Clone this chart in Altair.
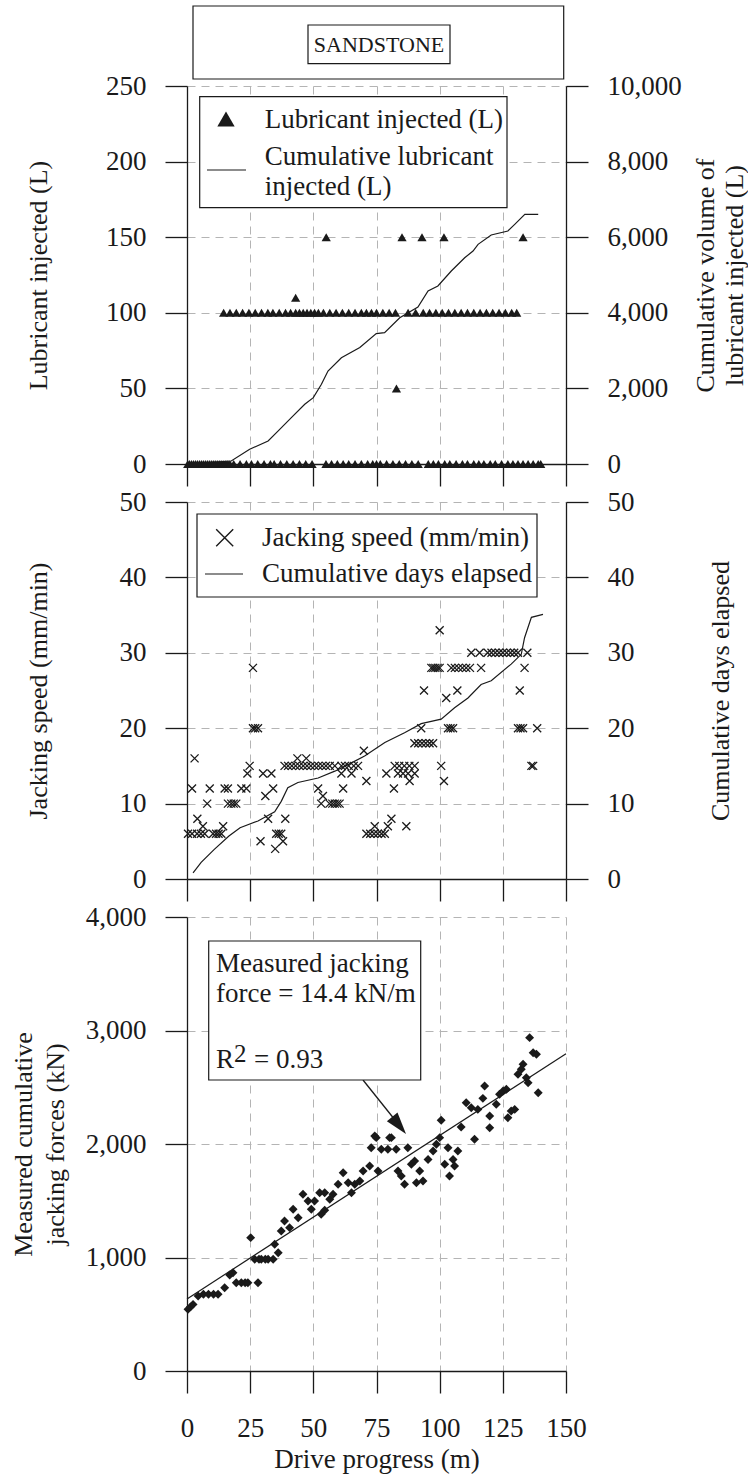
import altair as alt
import pandas as pd

FONT = "'Liberation Serif', 'Times New Roman', 'DejaVu Serif', serif"
INK = "#1a1a1a"
GRID = "#b4b4b4"

# ---------------- Panel 1: lubricant ----------------
lub_zero_x = [0.3, 1.0, 1.8, 2.6, 3.4, 4.2, 5.0, 5.8, 6.6, 7.4, 8.2, 9.0, 9.8, 10.6,
              11.4, 12.2, 13.0, 13.8, 14.6, 15.4, 16.2, 17.0, 18.5, 21.0, 23.5, 25.5,
              28.0, 30.5, 33.0, 34.5, 37.0, 39.5, 42.0, 44.5, 47.0, 49.5,
              55.0, 57.2, 59.5, 61.8, 64.0, 66.5, 69.0, 71.5, 73.5, 75.0, 76.5, 79.0,
              81.5, 84.0, 86.5, 89.0, 91.5, 95.5, 97.5, 99.5, 102.0, 104.0, 106.5,
              109.0, 111.0, 113.5, 115.5, 117.5, 120.0, 122.0, 124.5, 127.0, 129.0,
              131.0, 133.0, 135.0, 137.0, 139.0, 140.0]
lub_100_x = [14.5, 17.0, 19.5, 22.0, 24.5, 27.0, 29.5, 32.0, 34.0, 36.5, 39.0, 41.0,
             43.0, 44.5, 46.0, 47.5, 49.0, 50.5, 52.0, 54.0, 56.5, 59.0, 61.5, 64.0,
             66.5, 69.0, 71.0, 73.0, 75.0, 77.5, 80.0, 82.5, 87.5, 90.5, 93.5, 96.0,
             98.5, 101.0, 103.5, 106.0, 108.5, 111.0, 113.5, 116.0, 118.5, 121.0,
             123.5, 126.0, 128.5, 130.5]
lub_other_x = [43.0, 82.9, 55.1, 85.1, 93.0, 101.7, 133.0]
lub_other_v = [110, 50, 150, 150, 150, 150, 150]

cum_lub_x = [0, 17.5, 24.8, 32.1, 36.0, 41.3, 46.6, 50.0, 53.2, 55.8, 61.1, 68.4, 74.9,
             78.2, 84.2, 91.4, 95.4, 99.3, 104.6, 109.9, 113.2, 115.2, 120.4, 127.0,
             129.7, 133.7, 139.0]
cum_lub_v = [0, 80, 390, 610, 870, 1225, 1580, 1755, 2110, 2460, 2810, 3080, 3450,
             3475, 3870, 4150, 4580, 4710, 5105, 5455, 5635, 5810, 6060, 6165, 6340,
             6605, 6605]

# ---------------- Panel 2: jacking speed ----------------
speed_rows = {
    33: [100.0],
    30: [112.5, 115.8, 119.0, 120.5, 122.0, 123.5, 125.0, 126.5, 128.0, 129.5, 131.0, 134.7],
    28: [26.1, 96.7, 97.5, 98.3, 99.2, 100.0, 104.6, 106.0, 107.5, 109.0, 110.5, 112.0, 116.4, 133.6],
    25: [93.8, 107.0, 131.7],
    24: [102.6],
    20: [26.1, 27.0, 28.1, 92.7, 103.3, 104.3, 105.3, 131.0, 132.0, 133.0, 138.6],
    18: [90.0, 91.5, 93.0, 94.5, 96.0, 97.4],
    17: [70.0],
    16: [3.0, 43.7, 47.2],
    15: [24.8, 38.6, 40.0, 41.5, 43.0, 44.5, 46.0, 47.5, 49.0, 50.5, 52.0, 53.5, 55.0, 56.5,
         58.5, 61.1, 62.5, 64.0, 66.0, 67.7, 82.2, 84.0, 86.0, 88.0, 90.1, 100.6, 136.3, 137.0],
    14: [23.9, 30.1, 33.4, 61.1, 65.1, 78.9, 83.5, 85.5, 87.5, 90.1],
    13: [71.0, 88.1, 101.7],
    12: [2.0, 9.0, 14.9, 16.2, 21.5, 23.5, 34.1, 51.9, 61.8, 81.9],
    11: [31.0, 53.8],
    10: [8.0, 16.2, 17.5, 18.5, 19.5, 53.1, 56.4, 57.5, 58.5, 59.5, 60.4],
    8: [4.1, 32.1, 38.9, 80.9],
    7: [6.3, 14.3, 74.3, 79.5, 86.8],
    6: [0.4, 2.0, 4.0, 5.5, 7.0, 10.3, 11.5, 12.5, 13.6, 35.3, 36.3, 37.3, 71.0, 72.5,
        74.0, 75.5, 77.0, 78.3],
    5: [29.1, 38.0],
    4: [34.9],
}
days_x = [2.4, 5.6, 10.7, 16.6, 21.0, 28.1, 34.7, 37.3, 39.9, 43.9, 51.9, 58.5, 65.1,
          70.3, 78.3, 86.1, 92.7, 100.6, 105.9, 111.2, 116.4, 120.4, 128.3, 132.3,
          133.6, 136.3, 140.9]
days_v = [0.8, 2.2, 3.9, 5.7, 6.8, 7.7, 8.9, 10.3, 12.1, 12.8, 13.4, 14.3, 15.4, 16.3,
          18.1, 19.4, 20.6, 21.2, 22.7, 24.0, 25.8, 26.3, 28.5, 29.8, 32.0, 34.7, 35.1]

# ---------------- Panel 3: jacking force ----------------
force_x = [0.4, 1.4, 2.4, 4.4, 6.5, 8.5, 10.5, 12.3, 14.9, 16.9, 18.2, 19.5, 21.5, 23.0,
           24.1, 28.1, 25.2, 26.8, 28.5, 29.4, 31.0, 32.1, 34.1, 34.7, 36.1, 37.3, 38.6,
           40.6, 42.0, 44.0, 45.9, 47.9, 49.2, 50.5, 52.5, 54.5, 56.5, 57.8, 53.1, 54.5,
           59.8, 61.8, 63.8, 65.1, 66.4, 68.4, 69.7, 72.3, 74.3, 75.6, 72.9, 76.9, 79.5,
           82.8, 87.4, 80.9, 83.5, 84.8, 86.1, 88.8, 90.1, 92.1, 90.8, 93.4, 95.4, 97.4,
           98.7, 100.0, 102.0, 103.3, 105.3, 107.2, 105.9, 103.9, 113.8, 74.9, 80.2,
           100.6, 108.5, 110.5, 112.5, 115.1, 117.1, 117.8, 119.8, 119.8, 122.4, 123.7,
           125.1, 126.4, 127.0, 128.3, 129.7, 131.0, 132.3, 133.0, 134.3, 135.0, 135.6,
           137.0, 138.3, 139.0]
force_v = [543, 565, 587, 661, 676, 676, 676, 676, 734, 846, 866, 778, 778, 778,
           778, 778, 1175, 984, 984, 984, 984, 984, 984, 1116, 1042, 1233, 1322,
           1263, 1425, 1351, 1557, 1498, 1425, 1498, 1571, 1571, 1513, 1557, 1381, 1416,
           1645, 1747, 1659, 1571, 1645, 1674, 1762, 1806, 2070, 1762, 1967, 1953, 1953,
           1953, 1967, 2056, 1762, 1718, 1645, 1821, 1850, 1762, 1659, 1674, 1864, 1938,
           1997, 2056, 1821, 1967, 1864, 1938, 1806, 1718, 2041, 2056, 2056,
           2209, 2150, 2364, 2320, 2305, 2402, 2511, 2247, 2144, 2350, 2438,
           2467, 2482, 2232, 2291, 2305, 2614, 2658, 2702, 2584, 2540, 2937,
           2804, 2790, 2452]
fit_x = [0, 150]
fit_v = [635, 2795]

X_TICKS = [0, 25, 50, 75, 100, 125, 150]
W = 379
H1, H2, H3 = 378, 377, 454

lub_df = pd.DataFrame({
    "x": lub_zero_x + lub_100_x + lub_other_x,
    "v": [0] * len(lub_zero_x) + [100] * len(lub_100_x) + lub_other_v,
})
cum_df = pd.DataFrame({"x": cum_lub_x, "v": cum_lub_v})
sx, sv = [], []
for val, xs in speed_rows.items():
    for xv in xs:
        sx.append(xv)
        sv.append(val)
speed_df = pd.DataFrame({"x": sx, "v": sv})
days_df = pd.DataFrame({"x": days_x, "v": days_v})
force_df = pd.DataFrame({"x": force_x, "v": force_v})
fit_df = pd.DataFrame({"x": fit_x, "v": fit_v})
one = pd.DataFrame({"k": [0]})

xsc = alt.Scale(domain=[0, 150], nice=False, zero=False)


def x_enc(last):
    if last:
        ax = alt.Axis(values=X_TICKS, grid=True, title="Drive progress (m)",
                      titleY=88, titleBaseline="middle", labelPadding=22,
                      titleFontSize=27)
    else:
        ax = alt.Axis(values=X_TICKS, grid=True, labels=False, title="")
    return alt.X("x:Q", scale=xsc, axis=ax)


def left_axis(title, values, h, tx=-149, lh=30):
    return alt.Axis(values=values, grid=True, format=",d", title=title,
                    titleX=tx, titleY=h / 2, titleAngle=270, titleLineHeight=lh,
                    titleAlign="center", titleBaseline="middle")


def right_axis(title, values, h, tx, lh=29):
    return alt.Axis(orient="right", values=values, grid=False, format=",d", title=title,
                    titleX=tx, titleY=h / 2, titleAngle=270, titleLineHeight=lh,
                    titleAlign="center", titleBaseline="middle")


def rect(x1, x2, y1, y2):
    return alt.Chart(one).mark_rect(fill="white", stroke=INK, strokeWidth=1.2).encode(
        x=alt.value(x1), x2=alt.value(x2), y=alt.value(y1), y2=alt.value(y2))


def text(x, y, s, size=27, align="left"):
    return alt.Chart(one).mark_text(font=FONT, fontSize=size, align=align,
                                    baseline="middle", color=INK).encode(
        x=alt.value(x), y=alt.value(y), text=alt.value(s))


def hline(x1, x2, y):
    return alt.Chart(one).mark_rule(color=INK, strokeWidth=1.2).encode(
        x=alt.value(x1), x2=alt.value(x2), y=alt.value(y))


# ---- title box ----
title_chart = alt.layer(
    rect(6, 376.7, 0, 73),
    rect(121, 263, 19, 57.7),
    text(192, 39, "SANDSTONE", size=22, align="center"),
).properties(width=W, height=42)

# ---- panel 1 ----
tri = alt.Chart(lub_df).mark_point(shape="triangle-up", filled=True, size=85,
                                   color=INK, opacity=1).encode(
    x=x_enc(False),
    y=alt.Y("v:Q", scale=alt.Scale(domain=[0, 250], nice=False),
            axis=left_axis("Lubricant injected (L)", [0, 50, 100, 150, 200, 250], H1)))
cum = alt.Chart(cum_df).mark_line(color=INK, strokeWidth=1.2).encode(
    x=alt.X("x:Q", scale=xsc),
    y=alt.Y("v:Q", scale=alt.Scale(domain=[0, 10000], nice=False),
            axis=right_axis(["Cumulative volume of", "lubricant injected (L)"],
                            [0, 2000, 4000, 6000, 8000, 10000], H1, 139)))
leg1_sym = alt.Chart(one).mark_point(shape="triangle-up", filled=True, size=300,
                                     color=INK, opacity=1).encode(
    x=alt.value(39), y=alt.value(33))
p1 = alt.layer(
    tri, cum,
    rect(12.7, 320, 10.7, 121.7),
    leg1_sym,
    text(77.7, 34, "Lubricant injected (L)"),
    hline(20, 59, 84),
    text(77.7, 71, "Cumulative lubricant"),
    text(77.7, 101, "injected (L)"),
).resolve_scale(y="independent").properties(width=W, height=H1)

# ---- panel 2 ----
XPATH = "M-1,-1L1,1M-1,1L1,-1"
crosses = alt.Chart(speed_df).mark_point(shape=XPATH, filled=False, size=64,
                                         color=INK, strokeWidth=1.3, opacity=1).encode(
    x=x_enc(False),
    y=alt.Y("v:Q", scale=alt.Scale(domain=[0, 50], nice=False),
            axis=left_axis("Jacking speed (mm/min)", [0, 10, 20, 30, 40, 50], H2)))
days = alt.Chart(days_df).mark_line(color=INK, strokeWidth=1.2).encode(
    x=alt.X("x:Q", scale=xsc),
    y=alt.Y("v:Q", scale=alt.Scale(domain=[0, 50], nice=False),
            axis=right_axis("Cumulative days elapsed", [0, 10, 20, 30, 40, 50], H2, 154)))
leg2_sym = alt.Chart(one).mark_point(shape=XPATH, filled=False, size=290, color=INK,
                                     strokeWidth=1.4, opacity=1).encode(
    x=alt.value(37.7), y=alt.value(35.7))
p2 = alt.layer(
    crosses, days,
    rect(10, 350, 12, 95),
    leg2_sym,
    text(75, 36, "Jacking speed (mm/min)"),
    hline(18, 56, 72),
    text(75, 72, "Cumulative days elapsed"),
).resolve_scale(y="independent").properties(width=W, height=H2)

# ---- panel 3 ----
diam = alt.Chart(force_df).mark_point(shape="diamond", filled=True, size=80,
                                      color=INK, opacity=1).encode(
    x=x_enc(True),
    y=alt.Y("v:Q", scale=alt.Scale(domain=[0, 4000], nice=False),
            axis=left_axis(["Measured cumulative", "jacking forces (kN)"],
                           [0, 1000, 2000, 3000, 4000], H3, tx=-164, lh=32)))
fit = alt.Chart(fit_df).mark_line(color=INK, strokeWidth=1.2).encode(
    x=alt.X("x:Q", scale=xsc),
    y=alt.Y("v:Q", scale=alt.Scale(domain=[0, 4000], nice=False)))
arrow_line = alt.Chart(one).mark_rule(color=INK, strokeWidth=1.3).encode(
    x=alt.value(176), y=alt.value(163), x2=alt.value(212), y2=alt.value(208))
arrow_head = alt.Chart(one).mark_point(shape="M0,-1L0.62,1L-0.62,1Z", filled=True,
                                       size=484, angle=141, color=INK, opacity=1).encode(
    x=alt.value(212.1), y=alt.value(208.4))
p3 = alt.layer(
    diam, fit,
    arrow_line, arrow_head,
    rect(21.7, 233.7, 24, 163),
    text(29, 47, "Measured jacking"),
    text(29, 77, "force = 14.4 kN/m"),
    text(29, 143, "R"),
    text(47, 137, "2", size=25),
    text(67, 143, "= 0.93"),
).properties(width=W, height=H3)

chart = alt.vconcat(title_chart, p1, p2, p3, spacing=38, bounds="flush").configure_view(
    stroke="transparent"
).configure_axis(
    domainColor=INK, domainWidth=1.3, tickColor=INK, tickWidth=1.3, tickSize=22,
    gridColor=GRID, gridDash=[8, 6], gridWidth=1,
    labelFont=FONT, labelFontSize=27, labelColor=INK, labelPadding=19,
    labelFlush=False, labelOverlap=False, labelBound=False,
    titleFont=FONT, titleFontSize=26, titleFontWeight="normal", titleColor=INK,
).properties(padding={"left": 9, "top": 4, "right": 0, "bottom": 2})

chart.save("out.html", embed_options={"renderer": "svg", "actions": False})
